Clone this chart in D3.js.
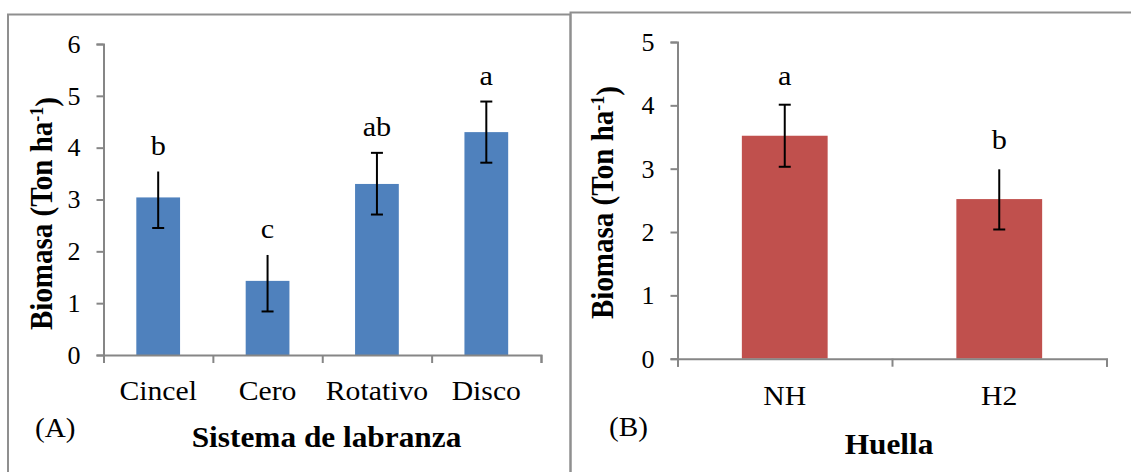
<!DOCTYPE html>
<html>
<head>
<meta charset="utf-8">
<script src="https://cdn.jsdelivr.net/npm/d3@7"></script>
<style>
  html, body { margin: 0; padding: 0; background: #fff; }
  svg { display: block; }
  text { font-family: "Liberation Serif", "Times New Roman", serif; fill: #000; }
</style>
</head>
<body>
<svg id="chart" width="1131" height="472"></svg>
<script>
// Panel A: biomass by tillage system
const catsA = ["Cincel", "Cero", "Rotativo", "Disco"];
const biomasaA = [3.04, 1.43, 3.30, 4.30];
const errUpA = [0.50, 0.50, 0.60, 0.59];
const errDownA = [0.59, 0.59, 0.59, 0.59];
const lettersA = ["b", "c", "ab", "a"];
const capTopA = [false, false, true, true];
const ticksA = [0, 1, 2, 3, 4, 5, 6];

// Panel B: biomass by wheel track
const catsB = ["NH", "H2"];
const biomasaB = [3.52, 2.52];
const errUpB = [0.49, 0.47];
const errDownB = [0.49, 0.48];
const lettersB = ["a", "b"];
const capTopB = [true, false];
const ticksB = [0, 1, 2, 3, 4, 5];

const svg = d3.select("#chart");
const AXIS = "#868686";
const FRAME = "#8f8f8f";
const SERIF = "'Liberation Serif', 'Times New Roman', serif";
const SX = 1.08; // horizontal text stretch

function label(g, x, y, txt, size, bold, anchor) {
  return g.append("text")
    .attr("transform", `translate(${x},${y}) scale(${SX},1)`)
    .attr("text-anchor", anchor || "middle")
    .style("font-family", SERIF)
    .style("font-size", size + "px")
    .style("font-weight", bold ? "bold" : "normal")
    .text(txt);
}

function yTitle(g, x, y) {
  const t = g.append("text")
    .attr("transform", `translate(${x},${y}) scale(${SX},1) rotate(-90)`)
    .attr("text-anchor", "middle")
    .style("font-family", SERIF)
    .style("font-size", "29px")
    .style("font-weight", "bold");
  t.append("tspan").text("Biomasa (Ton ha");
  t.append("tspan").attr("dy", "-0.45em").style("font-size", "18px").text("-1");
  t.append("tspan").attr("dy", "0.45em").text(")");
}

function panel(opts) {
  const g = svg.append("g");
  // frame
  g.append("rect")
    .attr("x", opts.frame[0]).attr("y", opts.frame[1])
    .attr("width", opts.frame[2]).attr("height", opts.frame[3])
    .attr("fill", "none").attr("stroke", FRAME).attr("stroke-width", 2);

  const n = opts.cats.length;
  const x = d3.scaleBand().domain(opts.cats).range(opts.xr)
    .paddingInner(0.6).paddingOuter(0.3);
  const xb = d3.scaleLinear().domain([0, n]).range(opts.xr);
  const y = d3.scaleLinear().domain(opts.ydom).range(opts.yr);

  // bars
  g.selectAll("rect.bar").data(opts.cats).enter().append("rect")
    .attr("class", "bar")
    .attr("x", d => x(d))
    .attr("width", x.bandwidth())
    .attr("y", (d, i) => y(opts.vals[i]))
    .attr("height", (d, i) => y(0) - y(opts.vals[i]))
    .attr("fill", opts.color);

  // y axis
  const ya = g.append("g").attr("transform", `translate(${opts.xr[0]},0)`)
    .call(d3.axisLeft(y).tickValues(opts.ticks).tickSize(7).tickPadding(16).tickFormat(d3.format("d")));
  ya.select(".domain").attr("stroke", AXIS).attr("stroke-width", 2);
  ya.selectAll(".tick line").attr("stroke", AXIS).attr("stroke-width", 2);
  ya.selectAll(".tick text").style("font-size", "26px")
    .style("font-family", SERIF).attr("fill", "#000");

  // x axis with ticks at category boundaries
  const xa = g.append("g").attr("transform", `translate(0,${y(0)})`)
    .call(d3.axisBottom(xb).tickValues(d3.range(n + 1)).tickSize(8).tickFormat(""));
  xa.select(".domain").attr("stroke", AXIS).attr("stroke-width", 2);
  xa.selectAll(".tick line").attr("stroke", AXIS).attr("stroke-width", 2);

  // error bars
  const cap = 6;
  opts.cats.forEach((c, i) => {
    const cx = x(c) + x.bandwidth() / 2;
    const top = y(opts.vals[i] + opts.up[i]);
    const bot = y(opts.vals[i] - opts.down[i]);
    g.append("line").attr("x1", cx).attr("x2", cx).attr("y1", top).attr("y2", bot)
      .attr("stroke", "#000").attr("stroke-width", 2);
    g.append("line").attr("x1", cx - cap).attr("x2", cx + cap).attr("y1", bot).attr("y2", bot)
      .attr("stroke", "#000").attr("stroke-width", 2);
    if (opts.capTop[i]) {
      g.append("line").attr("x1", cx - cap).attr("x2", cx + cap).attr("y1", top).attr("y2", top)
        .attr("stroke", "#000").attr("stroke-width", 2);
    }
    // significance letter
    label(g, cx, top - opts.letterGap, opts.letters[i], 28, false);
    // category label
    label(g, cx, y(0) + opts.catDy, c, 27.5, false);
  });

  label(g, opts.tag[0], opts.tag[1], opts.tag[2], 27, false, "start");
  label(g, opts.title[0], opts.title[1], opts.title[2], 29, true);
  yTitle(g, opts.ytitle[0], opts.ytitle[1]);
}

panel({
  frame: [8, 14.5, 562.5, 480],
  cats: catsA, vals: biomasaA, up: errUpA, down: errDownA,
  letters: lettersA, capTop: capTopA, ticks: ticksA,
  xr: [103.5, 541], ydom: [0, 6], yr: [355, 44],
  color: "#4f81bd", letterGap: 17, catDy: 45,
  tag: [35, 437, "(A)"],
  title: [326.5, 447, "Sistema de labranza"],
  ytitle: [52, 213.5]
});

panel({
  frame: [570.5, 12.5, 600, 480],
  cats: catsB, vals: biomasaB, up: errUpB, down: errDownB,
  letters: lettersB, capTop: capTopB, ticks: ticksB,
  xr: [677.5, 1106.5], ydom: [0, 5], yr: [358.7, 42],
  color: "#c0504d", letterGap: 20, catDy: 46.5,
  tag: [609, 436, "(B)"],
  title: [889, 454, "Huella"],
  ytitle: [613, 202.5]
});
</script>
</body>
</html>
